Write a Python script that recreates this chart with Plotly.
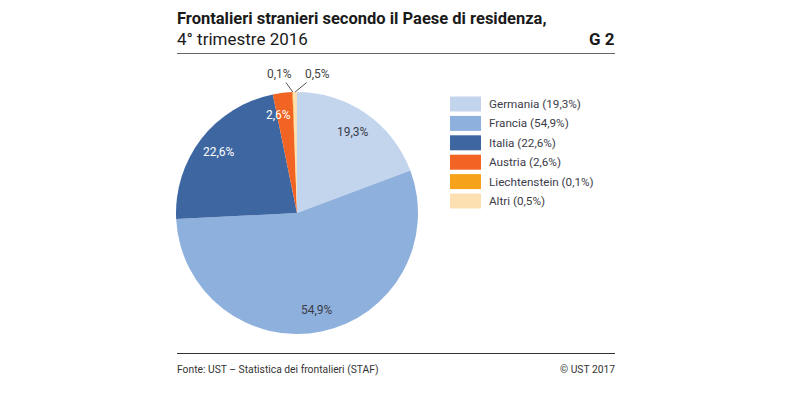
import math
import plotly.graph_objects as go

categories = ["Germania", "Francia", "Italia", "Austria", "Liechtenstein", "Altri"]
values = [19.3, 54.9, 22.6, 2.6, 0.1, 0.5]
colors = ["#c2d5ed", "#8eb0dc", "#3e67a2", "#f26424", "#f7a21b", "#fde0b2"]
text_colors = ["#3c3c48", "#3c3c48", "#ffffff", "#ffffff", "#444444", "#444444"]

W, H = 800, 395
fmt = lambda v: f"{v:.1f}".replace(".", ",") + "%"
labels = [f"{c} ({fmt(v)})" for c, v in zip(categories, values)]

# pie geometry (pixels)
cx, cy, r = 297, 213, 121
dom_x = [(cx - r) / W, (cx + r) / W]
dom_y = [1 - (cy + r) / H, 1 - (cy - r) / H]

fig = go.Figure(go.Pie(
    labels=labels, values=values, textinfo="none",
    sort=False, direction="clockwise", rotation=0,
    marker=dict(colors=colors, line=dict(color="#ffffff", width=0)),
    domain=dict(x=dom_x, y=dom_y), hoverinfo="label", showlegend=False,
))

P = lambda px, py: (px / W, 1 - py / H)

annotations = []
shapes = []
# slice labels: inside for big slices, callouts for tiny ones
total = sum(values)
cum = 0
callout = {"Liechtenstein": (-13, -18), "Altri": (22, -18)}
for c, v, tc in zip(categories, values, text_colors):
    mid = (cum + v / 2) / total
    cum += v
    th = 2 * math.pi * mid
    if c in callout:
        x, y = P(cx + r * math.sin(th), cy - r * math.cos(th))
        ax, ay = callout[c]
        annotations.append(dict(
            x=x, y=y, xref="paper", yref="paper",
            text=fmt(v), showarrow=True, arrowhead=0, arrowwidth=1,
            arrowcolor="#555555", ax=ax, ay=ay, standoff=0,
            font=dict(family="Roboto", size=12, color=tc)))
    else:
        rr = 99
        x, y = P(cx + rr * math.sin(th), cy - rr * math.cos(th))
        annotations.append(dict(
            x=x, y=y, xref="paper", yref="paper", xanchor="center", yanchor="middle",
            text=fmt(v), showarrow=False, xshift=-7 if v < 5 else 0,
            font=dict(family="Roboto", size=12, color=tc)))

# legend (drawn manually to get wide swatches)
for i, (lab, col) in enumerate(zip(labels, colors)):
    yc = 104 + 19.4 * i
    x0, y0 = P(450, yc - 7.5)
    x1, y1 = P(481, yc + 7.5)
    shapes.append(dict(type="rect", xref="paper", yref="paper", x0=x0, x1=x1, y0=y0, y1=y1,
                       fillcolor=col, line=dict(width=0)))
    tx, ty = P(487, yc)
    annotations.append(dict(x=tx, y=ty, xref="paper", yref="paper", xanchor="left",
                            yanchor="middle", text=lab, showarrow=False,
                            font=dict(family="Roboto", size=11.7, color="#3c3c48")))

annotations += [
    dict(x=175 / W, y=1 - 18 / H, xref="paper", yref="paper", xanchor="left", yanchor="middle",
         text="<b>Frontalieri stranieri secondo il Paese di residenza,</b>", showarrow=False,
         font=dict(family="Roboto", size=16.5, color="#1a1a1a")),
    dict(x=175 / W, y=1 - 39 / H, xref="paper", yref="paper", xanchor="left", yanchor="middle",
         text="4° trimestre 2016", showarrow=False,
         font=dict(family="Roboto", size=17, color="#1a1a1a")),
    dict(x=617 / W, y=1 - 39 / H, xref="paper", yref="paper", xanchor="right", yanchor="middle",
         text="<b>G 2</b>", showarrow=False,
         font=dict(family="Roboto", size=17, color="#1a1a1a")),
    dict(x=175 / W, y=1 - 369 / H, xref="paper", yref="paper", xanchor="left", yanchor="middle",
         text="Fonte: UST – Statistica dei frontalieri (STAF)", showarrow=False,
         font=dict(family="Roboto", size=10.3, color="#333333")),
    dict(x=617 / W, y=1 - 369 / H, xref="paper", yref="paper", xanchor="right", yanchor="middle",
         text="© UST 2017", showarrow=False,
         font=dict(family="Roboto", size=10.3, color="#333333")),
]

shapes += [
    dict(type="line", xref="paper", yref="paper", x0=177 / W, x1=615 / W,
         y0=1 - 53.5 / H, y1=1 - 53.5 / H, line=dict(color="#666666", width=1)),
    dict(type="line", xref="paper", yref="paper", x0=177 / W, x1=615 / W,
         y0=1 - 353.5 / H, y1=1 - 353.5 / H, line=dict(color="#333333", width=1)),
]

fig.update_layout(
    width=W, height=H, margin=dict(l=0, r=0, t=0, b=0),
    paper_bgcolor="#ffffff", plot_bgcolor="#ffffff",
    font=dict(family="Roboto", size=12, color="#333333"),
    showlegend=False,
    annotations=annotations, shapes=shapes,
)

fig.write_html("out.html", config={"displayModeBar": False},
               post_script="document.body.style.margin='0';document.body.style.padding='0';")
